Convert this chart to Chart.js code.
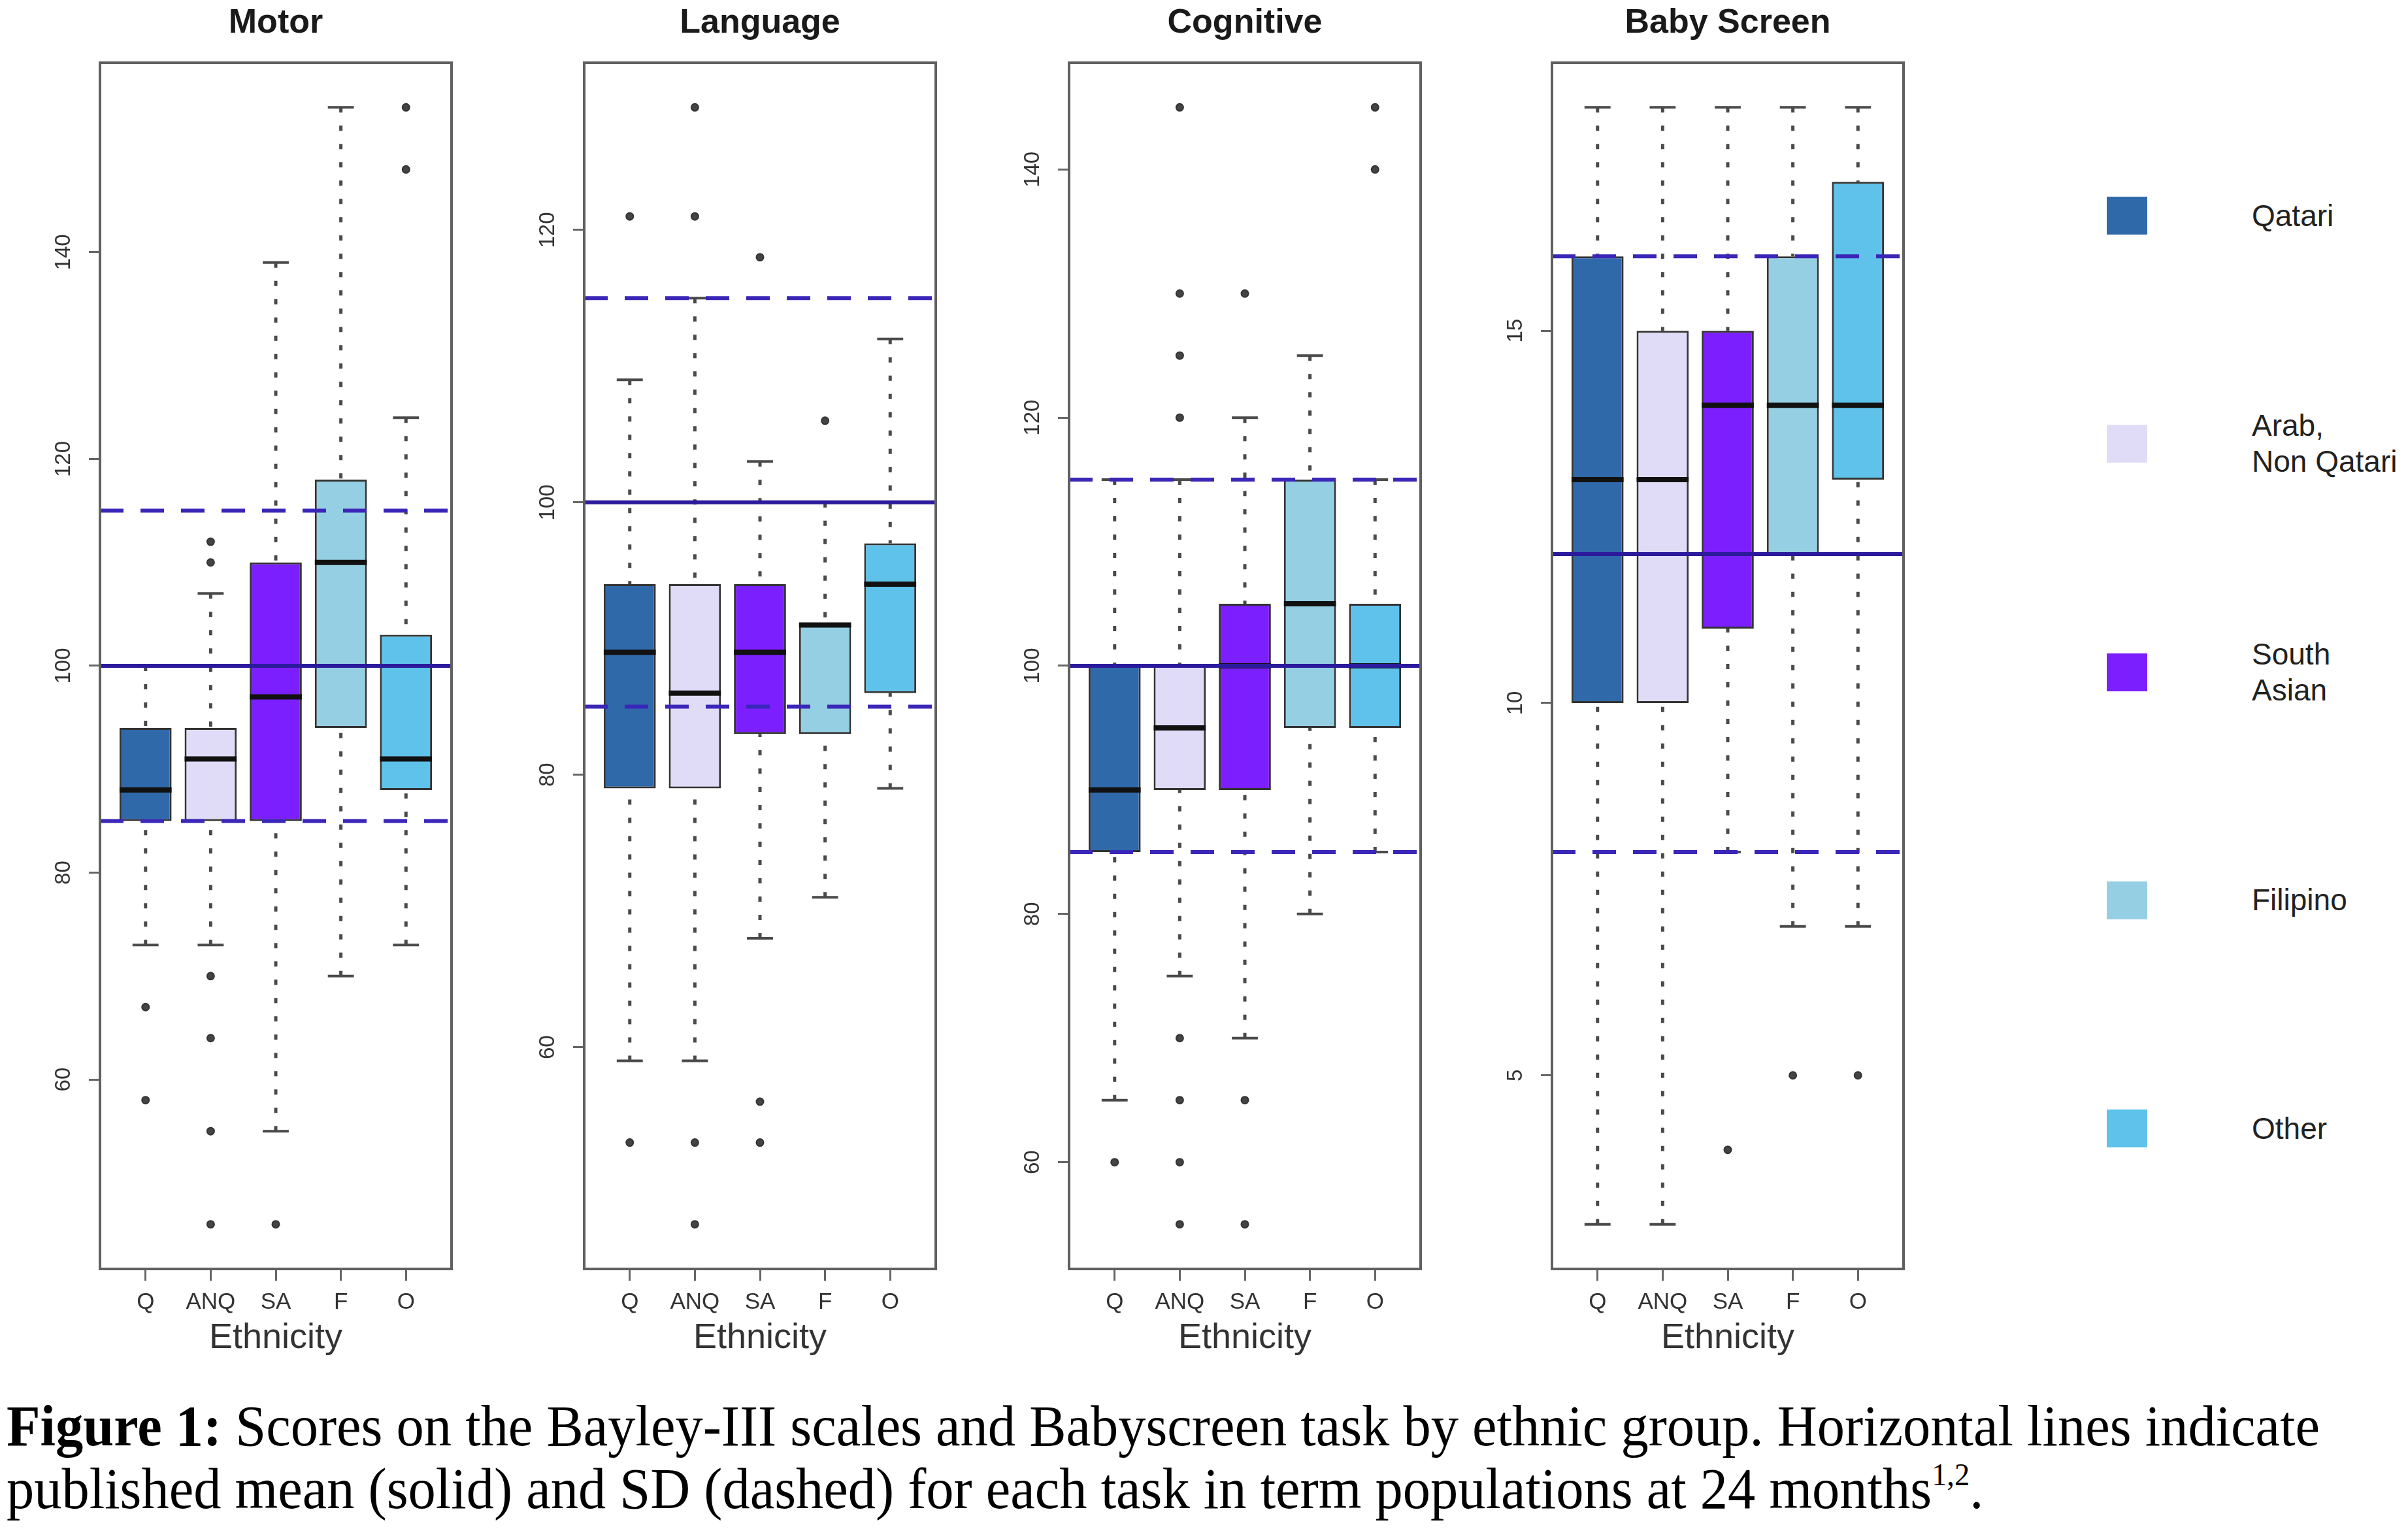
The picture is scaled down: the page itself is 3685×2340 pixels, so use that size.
<!DOCTYPE html>
<html>
<head>
<meta charset="utf-8">
<title>Bayley-III and Babyscreen scores by ethnic group</title>
<script src="https://cdn.jsdelivr.net/npm/chart.js@4.4.1/dist/chart.umd.min.js"></script>
<style>
  html, body { margin:0; padding:0; background:#ffffff; }
  body { width:3685px; height:2340px; position:relative; overflow:hidden; font-family:"Liberation Sans", Arial, sans-serif; }
  canvas.panel { position:absolute; top:0; }
  .lg-box { position:absolute; width:62px; height:58px; }
  .lg-text { position:absolute; font-size:46px; line-height:55px; color:#222; white-space:pre; }
  .cap { position:absolute; left:10px; font-family:"Liberation Serif","Times New Roman",serif; font-size:88px; line-height:96px; color:#000; white-space:nowrap; transform-origin:0 0; }
  .cap sup { font-size:0.55em; vertical-align:0.72em; line-height:0; }
</style>
</head>
<body>
<canvas class="panel" id="p0" width="721" height="2100"></canvas>
<canvas class="panel" id="p1" width="721" height="2100"></canvas>
<canvas class="panel" id="p2" width="721" height="2100"></canvas>
<canvas class="panel" id="p3" width="721" height="2100"></canvas>
<div id="legend"></div>
<div class="cap" id="cap1" style="top:2135px"><b>Figure 1:</b> Scores on the Bayley-III scales and Babyscreen task by ethnic group. Horizontal lines indicate</div>
<div class="cap" id="cap2" style="top:2231px">published mean (solid) and SD (dashed) for each task in term populations at 24 months<sup>1,2</sup>.</div>
<script>
// ---------------- data ----------------
const groups      = ['Q', 'ANQ', 'SA', 'F', 'O'];
const groupNames  = ['Qatari', 'Arab,\nNon Qatari', 'South\nAsian', 'Filipino', 'Other'];
const groupColors = ['#2F69AA', '#E0DCF8', '#7B1FFF', '#95CFE3', '#5EC2EA'];
const panelTitles = ['Motor', 'Language', 'Cognitive', 'Baby Screen'];
const axisTitle   = 'Ethnicity';

// Motor
const motorLow      = [73, 73, 55, 70, 73];
const motorQ1       = [85, 85, 85, 94, 88];
const motorMedian   = [88, 91, 97, 110, 91];
const motorQ3       = [94, 94, 110, 118, 103];
const motorHigh     = [100, 107, 139, 154, 124];
const motorOutliers = [[67, 58], [112, 110, 70, 64, 55, 46], [46], [], [154, 148]];
const motorRef      = [100, 85, 115];          // published mean, mean-SD, mean+SD
const motorTicks    = [60, 80, 100, 120, 140];

// Language
const langLow      = [59, 59, 68, 71, 79];
const langQ1       = [79, 79, 83, 83, 86];
const langMedian   = [89, 86, 89, 91, 94];
const langQ3       = [94, 94, 94, 91, 97];
const langHigh     = [109, 115, 103, 100, 112];
const langOutliers = [[121, 53], [129, 121, 53, 47], [118, 56, 53], [106], []];
const langRef      = [100, 85, 115];
const langTicks    = [60, 80, 100, 120];

// Cognitive
const cogLow      = [65, 75, 70, 80, 85];
const cogQ1       = [85, 90, 90, 95, 95];
const cogMedian   = [90, 95, 100, 105, 100];
const cogQ3       = [100, 100, 105, 115, 105];
const cogHigh     = [115, 115, 120, 125, 115];
const cogOutliers = [[60], [145, 130, 125, 120, 70, 65, 60, 55], [130, 65, 55], [], [145, 140]];
const cogRef      = [100, 85, 115];
const cogTicks    = [60, 80, 100, 120, 140];

// Baby Screen
const babyLow      = [3, 3, 8, 7, 7];
const babyQ1       = [10, 10, 11, 12, 13];
const babyMedian   = [13, 13, 14, 14, 14];
const babyQ3       = [16, 15, 15, 16, 17];
const babyHigh     = [18, 18, 18, 18, 18];
const babyOutliers = [[], [], [4], [5], [5]];
const babyRef      = [12, 8, 16];
const babyTicks    = [5, 10, 15];

// ---------------- layout / style ----------------
const PLOT_LEFTS = [153, 894, 1636, 2375];
const Y_AXIS_W = 153, CANVAS_H = 2100, PLOT_BOTTOM = 1942;
const FONT = '"Liberation Sans", Arial, sans-serif';
const MEAN_COLOR = '#2B1A9C', SD_COLOR = '#3A27B8';
const WHISKER_COLOR = '#4a4a4a', FRAME_COLOR = '#606060';

Chart.defaults.font.family = FONT;

function unitPx(chart, u) {
  const s = chart.scales.x;
  return Math.abs(s.getPixelForValue(1 + u) - s.getPixelForValue(1));
}

const framePlugin = {
  id: 'frame',
  afterDatasetsDraw(chart) {
    const a = chart.chartArea, ctx = chart.ctx;
    ctx.save();
    ctx.strokeStyle = FRAME_COLOR;
    ctx.lineWidth = 4;
    ctx.strokeRect(a.left, a.top, a.right - a.left, a.bottom - a.top);
    ctx.restore();
  }
};

const yLabelPlugin = {
  id: 'yRotLabels',
  afterDraw(chart) {
    const s = chart.scales.y, ctx = chart.ctx;
    ctx.save();
    ctx.font = '33px ' + FONT;
    ctx.fillStyle = '#333';
    ctx.textAlign = 'center';
    ctx.textBaseline = 'middle';
    s.ticks.forEach(t => {
      const y = s.getPixelForValue(t.value);
      ctx.save();
      ctx.translate(chart.chartArea.left - 55, y);
      ctx.rotate(-Math.PI / 2);
      ctx.fillText(String(t.value), 0, 0);
      ctx.restore();
    });
    ctx.restore();
  }
};

function makePanel(idx, title, lo, q1, med, q3, hi, outl, ref, ticks) {
  const canvas = document.getElementById('p' + idx);
  canvas.style.left = (PLOT_LEFTS[idx] - Y_AXIS_W) + 'px';

  const all = lo.concat(hi, outl.flat());
  const dMin = Math.min(...all), dMax = Math.max(...all);
  const pad = (dMax - dMin) * 0.04;
  const n = groups.length;
  const xMin = 0.5 - 0.04 * n, xMax = n + 0.5 + 0.04 * n;

  const whiskerData = [];
  groups.forEach((g, i) => {
    whiskerData.push({x: i + 1, y: hi[i]}, {x: i + 1, y: q3[i]}, {x: i + 1, y: null});
    whiskerData.push({x: i + 1, y: lo[i]}, {x: i + 1, y: q1[i]}, {x: i + 1, y: null});
  });
  const capData = [];
  groups.forEach((g, i) => { capData.push({x: i + 1, y: lo[i]}, {x: i + 1, y: hi[i]}); });
  const outData = [];
  outl.forEach((arr, i) => arr.forEach(v => outData.push({x: i + 1, y: v})));

  const refLine = (v, dashed) => ({
    type: 'line', order: 0,
    data: [{x: xMin, y: v}, {x: xMax, y: v}],
    borderColor: dashed ? SD_COLOR : MEAN_COLOR,
    borderWidth: 6,
    borderDash: dashed ? [36, 26] : [],
    pointRadius: 0, fill: false, tension: 0
  });

  return new Chart(canvas, {
    type: 'bar',
    data: {
      datasets: [
        refLine(ref[0], false), refLine(ref[1], true), refLine(ref[2], true),
        { type: 'scatter', order: 1,
          data: med.map((v, i) => ({x: i + 1, y: v})),
          pointStyle: 'line',
          pointRadius: ctx => unitPx(ctx.chart, 0.4),
          pointHoverRadius: ctx => unitPx(ctx.chart, 0.4),
          pointBorderWidth: 8, pointBorderColor: '#111', pointBackgroundColor: '#111' },
        { type: 'scatter', order: 2,
          data: outData,
          pointStyle: 'circle', pointRadius: 5.5, pointHoverRadius: 5.5,
          pointBackgroundColor: '#444', pointBorderColor: '#333', pointBorderWidth: 2 },
        { type: 'bar', order: 3,
          data: q1.map((v, i) => ({x: i + 1, y: [v, q3[i]]})),
          backgroundColor: groupColors,
          borderColor: '#333', borderWidth: 3, borderSkipped: false,
          barPercentage: 0.8, categoryPercentage: 1, grouped: false },
        { type: 'scatter', order: 4,
          data: capData,
          pointStyle: 'line',
          pointRadius: ctx => unitPx(ctx.chart, 0.2),
          pointHoverRadius: ctx => unitPx(ctx.chart, 0.2),
          pointBorderWidth: 4, pointBorderColor: WHISKER_COLOR },
        { type: 'line', order: 5,
          data: whiskerData,
          borderColor: WHISKER_COLOR, borderWidth: 5, borderDash: [8, 20],
          pointRadius: 0, spanGaps: false, fill: false, tension: 0 }
      ]
    },
    options: {
      responsive: false, animation: false, devicePixelRatio: 1,
      layout: { padding: { left: 0, right: 30, top: 0, bottom: 0 } },
      plugins: {
        legend: { display: false },
        tooltip: { enabled: false },
        title: { display: true, text: title, fullSize: false, color: '#1a1a1a',
                 font: { size: 52, weight: 'bold', family: FONT },
                 padding: { top: 4, bottom: 29.6 } }
      },
      scales: {
        x: {
          type: 'linear', min: xMin, max: xMax, offset: false,
          afterBuildTicks: s => { s.ticks = groups.map((g, i) => ({value: i + 1})); },
          afterFit: s => { s.height = CANVAS_H - PLOT_BOTTOM; },
          ticks: { callback: v => groups[v - 1] || '', autoSkip: false, maxRotation: 0, minRotation: 0,
                   color: '#333', padding: 12, font: { size: 35, family: FONT } },
          grid: { drawOnChartArea: false, drawTicks: true, offset: false, tickLength: 18, tickWidth: 3, tickColor: '#666' },
          border: { display: false },
          title: { display: true, text: axisTitle, color: '#333', font: { size: 54, family: FONT },
                   padding: { top: 0, bottom: 19 } }
        },
        y: {
          type: 'linear', min: dMin - pad, max: dMax + pad, beginAtZero: false,
          afterBuildTicks: s => { s.ticks = ticks.map(v => ({value: v})); },
          afterFit: s => { s.width = Y_AXIS_W; },
          ticks: { display: false },
          grid: { drawOnChartArea: false, drawTicks: true, tickLength: 17, tickWidth: 3, tickColor: '#666' },
          border: { display: false }
        }
      }
    },
    plugins: [framePlugin, yLabelPlugin]
  });
}

makePanel(0, panelTitles[0], motorLow, motorQ1, motorMedian, motorQ3, motorHigh, motorOutliers, motorRef, motorTicks);
makePanel(1, panelTitles[1], langLow, langQ1, langMedian, langQ3, langHigh, langOutliers, langRef, langTicks);
makePanel(2, panelTitles[2], cogLow, cogQ1, cogMedian, cogQ3, cogHigh, cogOutliers, cogRef, cogTicks);
makePanel(3, panelTitles[3], babyLow, babyQ1, babyMedian, babyQ3, babyHigh, babyOutliers, babyRef, babyTicks);

// ---------------- legend ----------------
const legend = document.getElementById('legend');
groupNames.forEach((name, i) => {
  const cy = 330 + i * 349.3;
  const box = document.createElement('div');
  box.className = 'lg-box';
  box.style.left = '3224px';
  box.style.top = (cy - 29) + 'px';
  box.style.background = groupColors[i];
  legend.appendChild(box);
  const txt = document.createElement('div');
  txt.className = 'lg-text';
  txt.textContent = name;
  const lines = name.split('\n').length;
  txt.style.left = '3446px';
  txt.style.top = (cy - lines * 55 / 2) + 'px';
  legend.appendChild(txt);
});

// ---------------- caption fit ----------------
const c1 = document.getElementById('cap1'), c2 = document.getElementById('cap2');
const k = 3540 / c1.getBoundingClientRect().width;
c1.style.transform = 'scaleX(' + k + ')';
c2.style.transform = 'scaleX(' + k + ')';
</script>
</body>
</html>
